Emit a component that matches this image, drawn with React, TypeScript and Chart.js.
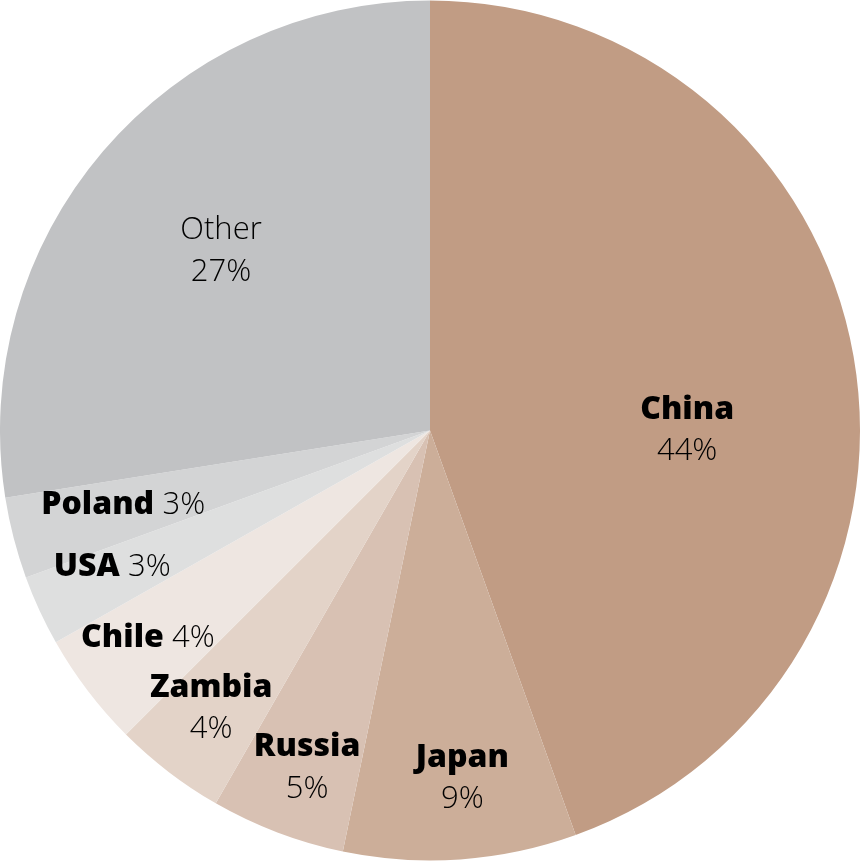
import React, { useEffect, useRef } from "react";
import { Chart, registerables } from "chart.js";

Chart.register(...registerables);

const countries = ["China", "Japan", "Russia", "Zambia", "Chile", "USA", "Poland", "Other"];
const shares = [44.5, 8.75, 5.05, 4.2, 4.3, 2.65, 3.05, 27.5];
const shareLabels = ["44%", "9%", "5%", "4%", "4%", "3%", "3%", "27%"];
const sliceColors = ["#C19C84", "#CCAE99", "#D8C1B3", "#E3D3C8", "#EEE6E1", "#DEDFDF", "#D3D4D5", "#C1C2C4"];

// label layout: angle (deg clockwise from top), radius fraction, inline, bold name
const labelAngle = [90, 174.7, 200.0, 218.2, 233.7, 246.8, 256.4, 310.7];
const labelRadius = [0.598, 0.813, 0.836, 0.823, 0.814, 0.804, 0.734, 0.641];
const labelInline = [false, false, false, false, true, true, true, false];
const labelBold = [true, true, true, true, true, true, true, false];

const FONT = "'Open Sans', 'Noto Sans', sans-serif";
const SIZE = 32;
const PSIZE = 31;
const LINE = 42;

const labelPlugin = {
  id: "sliceLabels",
  afterDatasetsDraw(chart: any) {
    const meta = chart.getDatasetMeta(0);
    const ctx = chart.ctx;
    ctx.save();
    ctx.textBaseline = "middle";
    meta.data.forEach((arc: any, i: number) => {
      const { x, y, outerRadius } = arc.getProps(["x", "y", "outerRadius"], true);
      const a = (labelAngle[i] * Math.PI) / 180;
      const r = outerRadius * labelRadius[i];
      const cx = x + Math.sin(a) * r;
      const cy = y - Math.cos(a) * r;
      const nameFont = labelBold[i] ? `800 ${SIZE}px ${FONT}` : `300 ${PSIZE}px ${FONT}`;
      const nameColor = labelBold[i] ? "#000000" : "#000000";
      const pctFont = `300 ${PSIZE}px ${FONT}`;
      const pctColor = "#000000";
      if (labelInline[i]) {
        ctx.font = nameFont;
        const n = countries[i] + " ";
        const wn = ctx.measureText(n).width;
        ctx.font = pctFont;
        const wp = ctx.measureText(shareLabels[i]).width;
        const left = cx - (wn + wp) / 2;
        ctx.textAlign = "left";
        ctx.font = nameFont;
        ctx.fillStyle = nameColor;
        ctx.fillText(n, left, cy);
        ctx.font = pctFont;
        ctx.fillStyle = pctColor;
        ctx.fillText(shareLabels[i], left + wn, cy);
      } else {
        ctx.textAlign = "center";
        ctx.font = nameFont;
        ctx.fillStyle = nameColor;
        ctx.fillText(countries[i], cx, cy - LINE / 2);
        ctx.font = pctFont;
        ctx.fillStyle = pctColor;
        ctx.fillText(shareLabels[i], cx, cy + LINE / 2);
      }
    });
    ctx.restore();
  },
};

export default function App() {
  const ref = useRef<HTMLCanvasElement | null>(null);
  useEffect(() => {
    document.body.style.margin = "0";
    const canvas = ref.current;
    if (!canvas) return;
    const chart = new Chart(canvas, {
      type: "pie",
      data: {
        labels: countries,
        datasets: [
          {
            data: shares,
            backgroundColor: sliceColors,
            borderWidth: 0,
          },
        ],
      },
      options: {
        responsive: false,
        animation: false,
        layout: { padding: 0 },
        plugins: {
          legend: { display: false },
          tooltip: { enabled: false },
        },
      },
      plugins: [labelPlugin],
    });
    if ((document as any).fonts && (document as any).fonts.ready) {
      (document as any).fonts.ready.then(() => chart.update());
    }
    return () => chart.destroy();
  }, []);
  return (
    <div style={{ width: 860, height: 861, background: "#ffffff" }}>
      <canvas ref={ref} width={860} height={861} style={{ display: "block" }} />
    </div>
  );
}
